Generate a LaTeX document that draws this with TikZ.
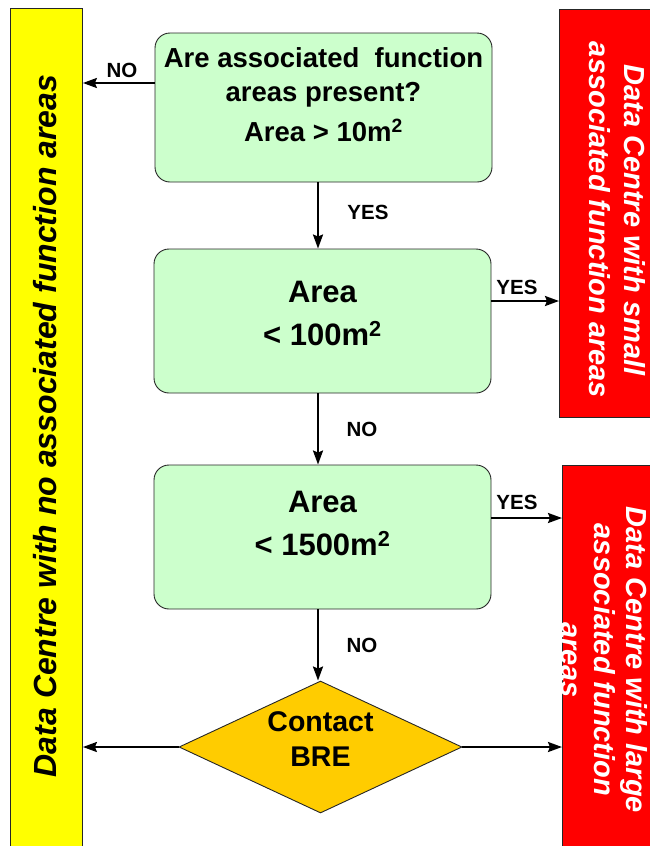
\documentclass[tikz,border=0pt]{standalone}
\usepackage{fontspec}
\setmainfont{Liberation Sans}
\usetikzlibrary{shapes.geometric,arrows.meta,calc}
\definecolor{gfill}{HTML}{CCFFCC}
\definecolor{yfill}{HTML}{FFFF00}
\definecolor{rfill}{HTML}{FF0000}
\definecolor{dfill}{HTML}{FFCC00}
\begin{document}
\begin{tikzpicture}[x=1pt,y=-1pt,
  gbox/.style={draw=black!85, line width=0.9pt, fill=gfill, rounded corners=15pt,
    minimum width=337pt, minimum height=144pt, inner sep=0pt},
  sidebox/.style={draw=black!85, line width=0.9pt, inner sep=0pt, anchor=north west},
  arr/.style={line width=2.2pt, -{Stealth[length=14pt,width=10pt,inset=2pt]}},
  lbl/.style={inner sep=0pt, font=\bfseries\fontsize{20.5}{24}\selectfont},
  btxt/.style={inner sep=0pt, align=center},
  rtxt/.style={inner sep=0pt, align=center, text=white, rotate=-90},
]
\useasboundingbox (0,0) rectangle (649,846);

% side boxes
\node[sidebox, fill=yfill, minimum width=72pt, minimum height=842pt] (yel) at (10,8) {};
\node[sidebox, fill=rfill, minimum width=93pt, minimum height=408pt] (red1) at (559,9) {};
\node[sidebox, fill=rfill, minimum width=90pt, minimum height=385pt] (red2) at (562,465) {};

\node[btxt, rotate=90, font=\bfseries\itshape\fontsize{32}{38}\selectfont] (yelt) at (45,426)
  {Data Centre with no associated function areas};
\node[rtxt, font=\bfseries\itshape\fontsize{29}{35}\selectfont] (red1t) at (617.5,220)
  {Data Centre with small\\associated function areas};
\node[rtxt, font=\bfseries\itshape\fontsize{29}{32.5}\selectfont] (red2t) at (604.5,660)
  {Data Centre with large\\associated function\\areas};

% decision boxes
\node[gbox, minimum height=149pt] (b1) at (323.5,107.5) {};
\node[gbox] (b2) at (322.5,321) {};
\node[gbox] (b3) at (322.5,537) {};
\node[diamond, draw=black!85, line width=0.9pt, fill=dfill, inner sep=0pt,
  minimum width=283pt, minimum height=132pt, shape aspect=2.14] (dia) at (320.5,747) {};

\node[btxt, font=\bfseries\fontsize{27.5}{34}\selectfont] (b1t) at (323.5,95)
  {Are associated\ \ function\\areas present?\\[6pt]Area > 10m\textsuperscript{2}};
\node[btxt, font=\bfseries\fontsize{31}{43}\selectfont] (b2t) at (322.5,313.5)
  {Area\\< 100m\textsuperscript{2}};
\node[btxt, font=\bfseries\fontsize{31}{43}\selectfont] (b3t) at (322.5,523.5)
  {Area\\< 1500m\textsuperscript{2}};
\node[btxt, font=\bfseries\fontsize{28.5}{35}\selectfont] (diat) at (320.5,739.5)
  {Contact\\BRE};

% connectors
\coordinate (ax) at (318,0);
\coordinate (ya) at (0,83);
\coordinate (yb) at (0,301);
\coordinate (yc) at (0,518);
\draw[arr] (b1.south -| ax) -- (b2.north -| ax);
\draw[arr] (b2.south -| ax) -- (b3.north -| ax);
\draw[arr] (b3.south -| ax) -- (dia.north -| ax);
\draw[arr] (b1.west |- ya) -- (yel.east |- ya);
\draw[arr] (b2.east |- yb) -- (red1.west |- yb);
\draw[arr] (b3.east |- yc) -- (red2.west |- yc);
\draw[arr] (dia.west) -- (dia.west -| yel.east);
\draw[arr] (dia.east) -- (dia.east -| red2.west);

% labels
\node[lbl] (l1) at (122,70) {NO};
\node[lbl] (l2) at (368,212) {YES};
\node[lbl] (l3) at (517,287) {YES};
\node[lbl] (l4) at (362,429) {NO};
\node[lbl] (l5) at (517,502) {YES};
\node[lbl] (l6) at (362,645) {NO};
\end{tikzpicture}
\end{document}
